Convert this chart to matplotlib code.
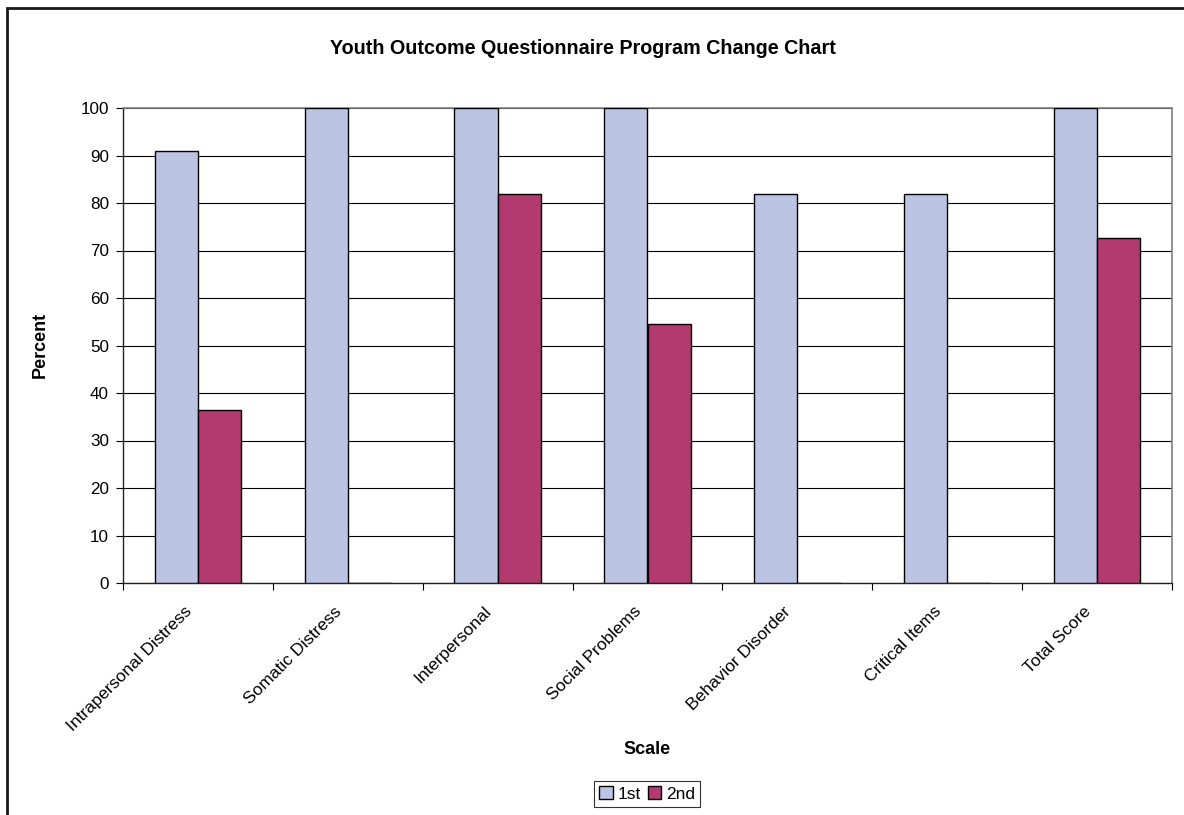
import matplotlib
matplotlib.use("Agg")
import matplotlib.pyplot as plt
import matplotlib.transforms as mtransforms
import numpy as np
from matplotlib.patches import Rectangle

categories = ["Intrapersonal Distress", "Somatic Distress", "Interpersonal",
              "Social Problems", "Behavior Disorder", "Critical Items", "Total Score"]
first = [90.9, 100, 100, 100, 81.8, 81.8, 100]
second = [36.4, 0, 81.8, 54.5, 0, 0, 72.7]
yticks = list(range(0, 101, 10))

plt.rcParams["font.family"] = ["Liberation Sans", "DejaVu Sans"]

W, H = 1184, 815
fig = plt.figure(figsize=(W / 100, H / 100), dpi=100)
ax = fig.add_axes([123 / W, 1 - 583 / H, (1172 - 123) / W, (583 - 108) / H])

x = np.arange(len(categories))
bw = 0.288
ax.bar(x - bw / 2, first, bw, color="#BCC4E3", edgecolor="black", linewidth=1.0,
       label="1st", zorder=3)
ax.bar(x + bw / 2, second, bw, color="#B23A6E", edgecolor="black", linewidth=1.0,
       label="2nd", zorder=3)

ax.set_xlim(-0.5, len(categories) - 0.5)
ax.set_ylim(0, 100)
ax.set_yticks(yticks)
ax.set_yticklabels([str(v) for v in yticks], fontsize=12.3)
ax.yaxis.grid(True, color="black", linewidth=0.8, zorder=0)
ax.set_axisbelow(True)

# category boundary ticks and centered rotated labels
ax.set_xticks(np.arange(len(categories) + 1) - 0.5)
ax.set_xticklabels([])
ax.set_xticks(x, minor=True)
ax.set_xticklabels(categories, minor=True, rotation=45, ha="right",
                   rotation_mode="anchor", fontsize=12.5)
ax.tick_params(axis="x", which="minor", length=0, pad=15)
ax.tick_params(axis="x", which="major", length=5, width=0.8, direction="out")
ax.tick_params(axis="y", length=5, width=0.8, direction="out", pad=5)
shift = mtransforms.ScaledTranslation(-14 / 100, 0, fig.dpi_scale_trans)
for lbl in ax.get_xticklabels(minor=True):
    lbl.set_transform(lbl.get_transform() + shift)

for s in ["top", "right"]:
    ax.spines[s].set_color("#808080")
    ax.spines[s].set_linewidth(1.2)
for s in ["left", "bottom"]:
    ax.spines[s].set_color("#222222")
    ax.spines[s].set_linewidth(1.0)

fig.text(583 / W, 1 - 48 / H, "Youth Outcome Questionnaire Program Change Chart",
         ha="center", va="center", fontsize=14.2, fontweight="bold")
fig.text(40 / W, 1 - 345 / H, "Percent", ha="center", va="center",
         rotation=90, fontsize=13, fontweight="bold")
fig.text(647 / W, 1 - 750 / H, "Scale", ha="center", va="center",
         fontsize=13, fontweight="bold")

leg = fig.legend(loc="center", bbox_to_anchor=(647 / W, 1 - 794 / H), ncol=2,
                 fontsize=12.5, frameon=True, fancybox=False, edgecolor="black",
                 handlelength=0.8, handleheight=0.8, handletextpad=0.25,
                 columnspacing=0.4, borderpad=0.3, borderaxespad=0)
leg.get_frame().set_linewidth(0.8)

# outer chart frame
fig.patches.append(Rectangle((7 / W, -0.1), 1.2, 1 - 8 / H + 0.1,
                             transform=fig.transFigure, fill=False,
                             edgecolor="#1a1a1a", linewidth=2.0))

fig.savefig("out.png", dpi=100)
